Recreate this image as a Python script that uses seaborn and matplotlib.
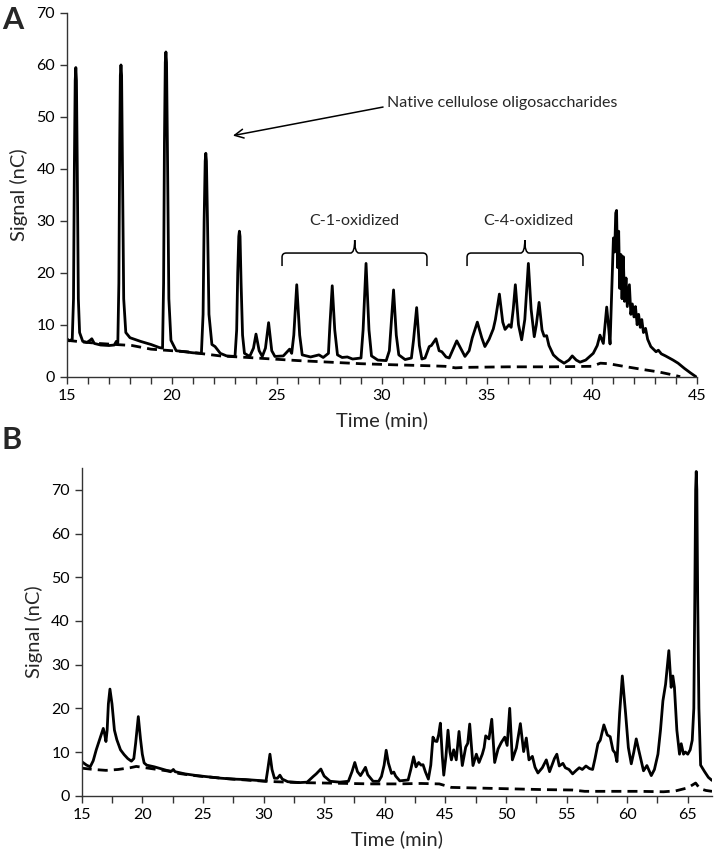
import numpy as np
import pandas as pd
import matplotlib
matplotlib.use("Agg")
import matplotlib.pyplot as plt
from matplotlib.path import Path
from matplotlib.patches import PathPatch
from matplotlib.ticker import MultipleLocator
import seaborn as sns

# ---------------- Panel A data ----------------
a_sample_time = [15.0, 15.1, 15.25, 15.31, 15.35, 15.39, 15.42, 15.45, 15.49, 15.54, 15.6, 15.75, 15.95, 16.1, 16.18, 16.3, 16.6, 17.0, 17.25, 17.35, 17.42, 17.47, 17.51, 17.54, 17.57, 17.6, 17.64, 17.7, 17.8, 18.0, 18.5, 19.0, 19.4, 19.55, 19.6, 19.64, 19.68, 19.71, 19.74, 19.78, 19.85, 19.95, 20.2, 20.6, 21.0, 21.4, 21.48, 21.53, 21.58, 21.61, 21.64, 21.69, 21.76, 21.9, 22.05, 22.3, 22.6, 23.0, 23.08, 23.13, 23.18, 23.21, 23.24, 23.29, 23.36, 23.45, 23.7, 23.88, 24.0, 24.15, 24.3, 24.45, 24.6, 24.75, 24.9, 25.3, 25.6, 25.7, 25.8, 25.94, 26.08, 26.2, 26.6, 27.0, 27.2, 27.45, 27.52, 27.63, 27.75, 27.88, 28.1, 28.35, 28.6, 29.0, 29.1, 29.24, 29.38, 29.5, 29.8, 30.2, 30.35, 30.45, 30.55, 30.68, 30.8, 31.1, 31.4, 31.5, 31.65, 31.78, 31.9, 32.05, 32.25, 32.35, 32.57, 32.72, 32.85, 33.05, 33.2, 33.56, 33.95, 34.15, 34.3, 34.54, 34.75, 34.9, 35.1, 35.3, 35.4, 35.59, 35.75, 35.86, 36.05, 36.15, 36.25, 36.35, 36.5, 36.65, 36.8, 36.97, 37.1, 37.25, 37.35, 37.48, 37.62, 37.72, 37.84, 37.95, 38.16, 38.4, 38.67, 38.9, 39.06, 39.25, 39.43, 39.7, 40.06, 40.25, 40.38, 40.54, 40.62, 40.7, 40.78, 40.86, 40.95, 41.02, 41.08, 41.13, 41.17, 41.22, 41.27, 41.32, 41.38, 41.43, 41.49, 41.55, 41.62, 41.68, 41.78, 41.85, 41.92, 42.0, 42.07, 42.15, 42.22, 42.3, 42.37, 42.45, 42.55, 42.65, 42.8, 42.95, 43.05, 43.16, 43.3, 43.5, 43.86, 44.1, 44.4, 44.7, 44.95]
a_sample_signal = [7.3, 6.9, 7.2, 15, 40, 57, 59.5, 57, 40, 15, 8.5, 6.8, 6.6, 7.0, 7.3, 6.4, 6.1, 6.0, 6.1, 6.8, 6.5, 18, 45, 58, 60, 58, 40, 15, 8.5, 7.5, 6.8, 6.2, 5.6, 5.5, 18, 45, 60.5, 62.5, 60.5, 45, 15, 7, 5.0, 4.8, 4.6, 4.5, 12, 30, 41.5, 43, 41.5, 30, 12, 6.2, 5.8, 4.5, 4.0, 3.9, 9, 20, 27, 28, 27, 18, 8, 4.5, 3.9, 5.5, 8.2, 5, 3.9, 5.5, 10.4, 5, 3.9, 4.0, 5.3, 4.5, 8, 17.7, 8, 4.2, 3.8, 4.2, 3.7, 4.5, 10, 17.5, 9, 4.2, 3.7, 3.8, 3.4, 3.6, 9, 21.8, 9, 4, 3.2, 3.1, 5, 11, 16.7, 8, 4.2, 3.3, 3.6, 7, 13.3, 6, 3.4, 3.6, 5.8, 6.0, 7.3, 5.0, 4.8, 3.8, 3.6, 6.9, 3.9, 5.0, 7.5, 10.5, 7.5, 5.8, 7.2, 9.2, 11, 15.9, 10.5, 9.1, 10.0, 9.5, 13, 17.7, 10, 7.1, 11, 21.8, 13, 7.7, 10, 14.3, 9, 7.8, 7.9, 6.0, 4.2, 3.3, 2.6, 3.2, 4.0, 3.2, 2.8, 3.2, 4.5, 6.0, 8.0, 6.4, 10, 13.4, 10, 6.3, 18, 26.7, 24, 31.5, 32.0, 21, 28, 17, 23.5, 15, 23.1, 14.5, 19, 13.5, 17.7, 12, 14, 11.5, 13.5, 10, 12, 9.5, 11, 8.5, 9.3, 7.2, 5.8, 5.2, 4.8, 5.1, 4.4, 4.0, 3.2, 2.6, 1.6, 0.7, 0.0]

a_control_time = [15.0, 15.7, 16.5, 17.3, 18.1, 19.0, 20.0, 20.7, 21.5, 22.3, 23.6, 24.4, 26.0, 27.5, 29.0, 30.5, 32.3, 33.0, 33.5, 34.0, 36.0, 38.0, 40.0, 40.4, 40.8, 41.5, 42.4, 43.2, 43.9, 44.2]
a_control_signal = [7.0, 6.7, 6.4, 6.2, 6.0, 5.3, 5.0, 4.8, 4.4, 4.0, 3.7, 3.5, 3.1, 2.8, 2.5, 2.3, 2.1, 2.0, 1.7, 1.8, 1.9, 1.9, 2.0, 2.6, 2.5, 2.0, 1.4, 0.9, 0.3, 0.0]

# ---------------- Panel B data ----------------
b_sample_time = [15.0, 15.4, 15.7, 15.95, 16.2, 16.5, 16.78, 16.9, 17.0, 17.1, 17.2, 17.33, 17.5, 17.7, 17.9, 18.2, 18.5, 18.8, 19.1, 19.3, 19.45, 19.67, 19.85, 20.0, 20.15, 20.36, 21.0, 21.5, 22.0, 22.4, 22.56, 22.7, 23.5, 24.5, 25.5, 26.5, 27.5, 28.5, 29.5, 30.2, 30.35, 30.53, 30.7, 30.9, 31.15, 31.35, 31.55, 32.0, 33.0, 33.6, 34.1, 34.35, 34.73, 35.0, 35.5, 36.3, 37.0, 37.3, 37.53, 37.75, 38.0, 38.2, 38.41, 38.6, 39.04, 39.5, 39.73, 39.95, 40.12, 40.3, 40.56, 40.75, 40.9, 41.24, 41.93, 42.15, 42.38, 42.58, 42.8, 43.0, 43.16, 43.35, 43.6, 43.8, 43.98, 44.15, 44.31, 44.45, 44.59, 44.75, 44.87, 45.05, 45.22, 45.38, 45.5, 45.69, 45.9, 46.13, 46.4, 46.68, 46.85, 47.01, 47.28, 47.56, 47.78, 48.05, 48.2, 48.33, 48.6, 48.83, 49.07, 49.35, 49.62, 49.9, 50.1, 50.31, 50.53, 50.86, 51.19, 51.46, 51.68, 51.9, 52.18, 52.4, 52.64, 53.0, 53.33, 53.6, 54.0, 54.2, 54.4, 54.7, 54.9, 55.2, 55.5, 55.8, 56.05, 56.3, 56.6, 56.9, 57.15, 57.35, 57.59, 57.78, 58.08, 58.36, 58.6, 58.83, 59.0, 59.16, 59.38, 59.6, 59.87, 60.1, 60.34, 60.55, 60.75, 60.95, 61.16, 61.35, 61.63, 61.99, 62.25, 62.54, 62.75, 62.95, 63.17, 63.44, 63.63, 63.77, 63.9, 64.1, 64.32, 64.46, 64.65, 64.8, 65.0, 65.2, 65.37, 65.5, 65.58, 65.65, 65.7, 65.75, 65.82, 65.92, 66.06, 66.39, 66.7, 67.0]
b_sample_signal = [7.8, 7.0, 6.6, 8.0, 10.5, 13.0, 15.4, 14.0, 12.4, 15, 21, 24.4, 21, 15, 12.8, 10.5, 9.4, 8.5, 7.9, 8.5, 12, 18.1, 13, 9.5, 7.5, 7.0, 6.6, 6.2, 5.8, 5.6, 6.0, 5.5, 5.0, 4.6, 4.3, 4.0, 3.8, 3.7, 3.5, 3.3, 6.0, 9.5, 6.0, 4.0, 4.0, 4.7, 3.8, 3.2, 3.0, 3.1, 4.4, 5.0, 6.1, 4.5, 3.3, 3.1, 3.3, 5.5, 7.6, 5.5, 4.6, 5.5, 6.5, 4.8, 3.3, 3.3, 4.4, 7, 10.4, 7.5, 5.1, 5.4, 4.5, 3.4, 3.6, 6, 8.9, 6.6, 7.6, 7.0, 7.1, 5.5, 3.8, 7, 13.4, 12.5, 12.4, 14, 16.6, 9, 4.7, 9, 15.0, 10, 8.2, 10.5, 8.2, 14.7, 6.9, 11.1, 12, 16.4, 6.9, 9.5, 7.6, 9.5, 11, 13.7, 13.0, 17.5, 7.6, 10.7, 12.2, 13.4, 11.5, 20.0, 8.2, 10.9, 16.5, 10.1, 13.2, 8.2, 9.0, 6.5, 5.2, 6.4, 8.2, 5.5, 8.5, 9.5, 6.8, 7.4, 6.4, 6.0, 5.0, 5.8, 6.4, 6.0, 6.8, 6.2, 6.0, 8.5, 11.9, 12.7, 16.2, 13.9, 13.5, 10.4, 9.8, 7.8, 18.9, 27.4, 18.9, 11, 7.3, 10, 13.0, 10.5, 8.0, 5.7, 6.9, 4.6, 6.0, 9.5, 15, 21.7, 25.5, 33.2, 24.8, 27.4, 24.8, 15, 9.5, 11.9, 9.5, 10, 9.5, 10.5, 12.7, 20, 45, 70, 74.2, 70, 45, 20, 7.0, 5.5, 4.2, 3.5]

b_control_time = [15.0, 16.0, 17.0, 18.0, 19.0, 19.5, 20.0, 21.0, 22.0, 23.0, 24.0, 25.0, 27.0, 29.0, 31.0, 33.0, 35.0, 37.0, 39.0, 41.0, 43.0, 44.5, 45.5, 47.0, 50.0, 53.0, 55.5, 56.5, 58.0, 61.0, 63.0, 64.0, 65.0, 65.65, 66.0, 66.5, 67.0]
b_control_signal = [6.3, 6.0, 5.8, 6.0, 6.4, 6.7, 6.5, 6.1, 5.7, 5.1, 4.7, 4.4, 3.9, 3.5, 3.2, 3.0, 2.9, 2.8, 2.7, 2.7, 2.8, 2.7, 1.9, 1.8, 1.6, 1.4, 1.3, 1.0, 1.0, 1.0, 0.9, 1.1, 1.8, 2.9, 1.6, 1.2, 1.0]

FONT = ["Lato", "DejaVu Sans"]

sns.set_theme(style="ticks")
plt.rcParams["font.family"] = FONT
plt.rcParams["axes.edgecolor"] = "#333333"
plt.rcParams["xtick.color"] = "#333333"
plt.rcParams["ytick.color"] = "#333333"
plt.rcParams["xtick.labelcolor"] = "black"
plt.rcParams["ytick.labelcolor"] = "black"


def make_df(t, s, kind):
    return pd.DataFrame({"Time": t, "Signal": s, "kind": kind})


dfA = pd.concat([make_df(a_sample_time, a_sample_signal, "sample"),
                 make_df(a_control_time, a_control_signal, "control")])
dfB = pd.concat([make_df(b_sample_time, b_sample_signal, "sample"),
                 make_df(b_control_time, b_control_signal, "control")])

fig = plt.figure(figsize=(7.14, 8.6), dpi=100)
axA = fig.add_axes([67 / 714, 1 - 376.7 / 860, 630 / 714, 363.7 / 860])
axB = fig.add_axes([81.7 / 714, 1 - 795.7 / 860, 630.3 / 714, 327.7 / 860])


def draw(ax, df):
    sns.lineplot(data=df[df.kind == "control"], x="Time", y="Signal", ax=ax,
                 color="black", lw=2.0, estimator=None, sort=False,
                 linestyle=(0, (3.6, 2.2)))
    sns.lineplot(data=df[df.kind == "sample"], x="Time", y="Signal", ax=ax,
                 color="black", lw=2.0, estimator=None, sort=False)
    for side in ["top", "right"]:
        ax.spines[side].set_visible(False)
    for side in ["left", "bottom"]:
        ax.spines[side].set_linewidth(1.0)
    ax.tick_params(axis="both", which="both", direction="out", length=5,
                   width=1.0, labelsize=11.5)
    ax.set_xlabel("Time (min)", fontsize=14.5, labelpad=6)
    ax.set_ylabel("Signal (nC)", fontsize=14.5, labelpad=6)


draw(axA, dfA)
axA.set_xlim(15, 45)
axA.set_ylim(0, 70)
axA.xaxis.set_major_locator(MultipleLocator(5))
axA.xaxis.set_minor_locator(MultipleLocator(1))
axA.yaxis.set_major_locator(MultipleLocator(10))

draw(axB, dfB)
axB.set_xlim(15, 67)
axB.set_ylim(0, 75)
axB.xaxis.set_major_locator(MultipleLocator(5))
axB.xaxis.set_minor_locator(MultipleLocator(2.5))
axB.set_yticks(range(0, 71, 10))

# Annotations panel A
axA.annotate("", xy=(22.9, 46.4), xytext=(30.05, 51.9),
             arrowprops=dict(arrowstyle="->", color="black", lw=1.1,
                             mutation_scale=16, shrinkA=0, shrinkB=0))
axA.text(30.24, 52.7, "Native cellulose oligosaccharides", fontsize=11.5,
         ha="left", va="center")


def bracket(ax, x0, x1, xm, yb, yl, yt, rx=0.2, ry=0.8):
    verts = [(x0, yb), (x0, yl - ry), (x0, yl), (x0 + rx, yl),
             (xm - rx, yl), (xm, yl), (xm, yt),
             (xm, yl), (xm + rx, yl),
             (x1 - rx, yl), (x1, yl), (x1, yl - ry), (x1, yb)]
    codes = [Path.MOVETO, Path.LINETO, Path.CURVE3, Path.CURVE3,
             Path.LINETO, Path.CURVE3, Path.CURVE3,
             Path.CURVE3, Path.CURVE3,
             Path.LINETO, Path.CURVE3, Path.CURVE3, Path.LINETO]
    ax.add_patch(PathPatch(Path(verts, codes), fill=False, lw=1.1,
                           edgecolor="black"))


bracket(axA, 25.24, 32.14, 28.7, 21.3, 23.8, 26.3)
axA.text(28.7, 29.9, "C-1-oxidized", fontsize=11.5, ha="center", va="center")
bracket(axA, 34.05, 39.57, 36.8, 21.3, 23.8, 26.3)
axA.text(36.95, 29.9, "C-4-oxidized", fontsize=11.5, ha="center", va="center")

fig.text(2 / 714, 1 - 20 / 860, "A", fontsize=22, fontweight="bold",
         ha="left", va="center")
fig.text(2 / 714, 1 - 440 / 860, "B", fontsize=22, fontweight="bold",
         ha="left", va="center")

fig.savefig("out.png", dpi=100)
